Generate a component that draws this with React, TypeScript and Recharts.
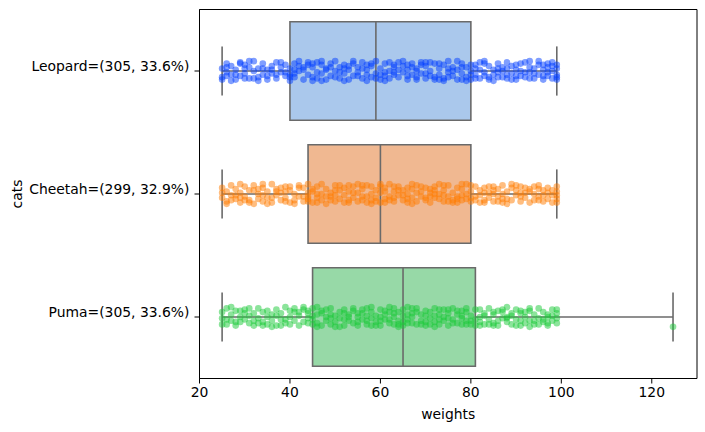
import React from "react";
import {
  ScatterChart,
  Scatter,
  XAxis,
  YAxis,
  ReferenceArea,
  ReferenceLine,
} from "recharts";

// ---- categories & tick labels ----
const categories = ["Leopard", "Cheetah", "Puma"];
const tickLabels = ["Leopard=(305, 33.6%)", "Cheetah=(299, 32.9%)", "Puma=(305, 33.6%)"];
const xTicks = [20, 40, 60, 80, 100, 120];

// ---- box statistics ----
const whiskerLow = [25, 25, 25];
const q1 = [40, 44, 45];
const median = [59, 60, 65];
const q3 = [80, 80, 81];
const whiskerHigh = [99, 99, 124.7];

// ---- strip points: [weight, jitter in hundredths of a category] ----
const leopardPoints = [
  [25,-2],[25,5],[26,-6],[26,1],[27,3],[27,-4],[28,7],[28,-1],[29,-7],[29,4],
  [30,2],[30,-5],[31,6],[31,-3],[32,0],[32,-8],[33,5],[33,-2],[34,3],[34,-6],
  [35,7],[35,-1],[36,-4],[36,2],[37,6],[37,-7],[38,1],[38,-3],[39,4],[39,-5],
  [40,8],[40,-2],[40,3],[41,-6],[41,5],[42,0],[42,-4],[43,7],[43,-1],[44,3],
  [44,-7],[45,5],[45,-3],[46,1],[46,6],[47,-5],[47,2],[48,7],[48,-2],[49,-6],
  [49,4],[50,0],[50,-8],[51,6],[51,-3],[52,2],[52,-5],[53,7],[53,-1],[54,4],
  [54,-6],[55,1],[55,-3],[56,6],[56,-7],[57,3],[57,-1],[58,5],[58,-4],[59,-8],
  [59,2],[60,7],[60,-2],[61,4],[61,-6],[62,0],[62,6],[63,-3],[63,3],[64,-7],
  [64,5],[65,1],[65,-4],[66,7],[66,-1],[67,3],[67,-6],[68,5],[68,-2],[69,-7],
  [69,2],[70,6],[70,-4],[71,0],[71,4],[72,-6],[72,7],[73,-2],[73,3],[74,-5],
  [74,6],[75,1],[75,-8],[76,4],[76,-3],[77,7],[77,-1],[78,2],[78,-6],[79,5],
  [79,-3],[80,0],[80,7],[80,-5],[81,3],[81,-2],[82,6],[82,-7],[83,1],[83,4],
  [84,-4],[84,7],[85,-1],[85,3],[86,-6],[86,5],[87,0],[87,-3],[88,6],[88,-7],
  [89,2],[89,-4],[90,7],[90,-1],[91,4],[91,-6],[92,1],[92,5],[93,-3],[93,-8],
  [94,6],[94,2],[95,-5],[95,3],[96,-1],[96,7],[97,-6],[97,4],[98,0],[98,-4],
  [99,5],[99,-2],[99,3],
  [27,8],[31,-8],[26,-3],[35,4],[29,-6],[33,8],[38,-7],[30,6],[36,-1],[40,5],
  [42,-8],[39,1],[44,-5],[47,8],[41,2],[46,-7],[43,-3],[50,5],[48,-1],[52,8],
  [45,-6],[55,4],[53,-4],[57,8],[51,1],[58,-6],[56,-2],[60,3],[62,-7],[59,6],
  [64,-1],[61,8],[66,-5],[63,1],[68,7],[65,-8],[70,2],[67,-3],[72,5],[69,-5],
  [74,8],[71,-7],[76,0],[73,-6],[78,7],[75,-2],[80,3],[77,-8],[82,-1],[79,8],
  [84,5],[81,-5],[86,-2],[83,-6],[88,3],[85,8],[90,-5],[87,5],[92,-7],[89,7],
  [94,-2],[91,0],[96,4],[93,6],[98,-7],[95,-8],[97,1],[99,-5],[98,6],[96,-5],
  [25,7],[28,3],[32,6],[34,-2],[37,3],[45,8],[49,-3],[54,-8],[57,-5],[61,1],
  [66,4],[70,-7],[73,7],[78,-3],[83,-8],[86,1],[90,4],[93,1],[97,-3],[99,7],
  [26,4],[30,-2],[41,-1],[47,-8],[52,-2],[63,-5],[68,0],[75,5],[81,6],[88,-2],
];
const cheetahPoints = [
  [25,3],[25,-5],[26,6],[26,-2],[27,-7],[27,1],[28,4],[28,-4],[29,7],[29,-1],
  [30,-6],[30,2],[31,5],[31,-3],[32,8],[32,-7],[33,0],[33,4],[34,-5],[34,6],
  [35,-2],[35,3],[36,-8],[36,7],[37,1],[37,-4],[38,5],[38,-1],[39,-6],[39,3],
  [40,7],[40,-3],[41,0],[41,5],[42,-7],[42,2],[43,6],[43,-5],[44,-1],[44,4],
  [44,-8],[45,7],[45,-2],[46,3],[46,-6],[47,5],[47,0],[48,-4],[48,8],[49,-1],
  [49,2],[50,-7],[50,6],[51,-3],[51,4],[52,1],[52,-5],[53,7],[53,-2],[54,3],
  [54,-6],[55,6],[55,-1],[56,-4],[56,2],[57,7],[57,-7],[58,0],[58,5],[59,-3],
  [59,3],[60,-6],[60,7],[60,-1],[61,4],[61,-5],[62,2],[62,-8],[63,6],[63,-2],
  [64,1],[64,-6],[65,5],[65,-3],[66,7],[66,0],[67,-4],[67,3],[68,-7],[68,6],
  [69,2],[69,-2],[70,5],[70,-5],[71,-1],[71,7],[72,3],[72,-6],[73,0],[73,4],
  [74,-3],[74,6],[75,-7],[75,2],[76,5],[76,-1],[77,-5],[77,7],[78,1],[78,-4],
  [79,4],[79,-8],[80,6],[80,-2],[81,2],[81,-6],[82,7],[82,-3],[83,-1],[83,5],
  [84,-6],[84,3],[85,0],[85,6],[86,-4],[86,2],[87,7],[87,-7],[88,-2],[88,4],
  [89,5],[89,-5],[90,1],[90,-3],[91,6],[91,-6],[92,3],[92,-1],[93,7],[93,-4],
  [94,0],[94,5],[95,-7],[95,2],[96,6],[96,-3],[97,-5],[97,4],[98,1],[98,7],
  [99,-2],[99,4],[99,-6],
  [26,8],[29,-8],[25,-1],[33,-4],[28,1],[31,7],[36,3],[34,-8],[30,5],[38,-5],
  [41,8],[37,-2],[43,2],[39,6],[45,-4],[42,-5],[47,-8],[44,6],[49,5],[46,0],
  [51,-7],[48,2],[53,5],[50,-3],[55,-8],[52,7],[57,2],[54,-1],[59,6],[56,-7],
  [61,-2],[58,8],[63,3],[60,-8],[65,1],[62,5],[67,8],[64,-3],[69,-6],[66,4],
  [71,2],[68,-1],[73,-8],[70,3],[75,6],[72,0],[77,2],[74,-7],[79,0],[76,7],
  [81,5],[78,-8],[83,-5],[80,3],[85,-3],[82,1],[87,4],[84,-1],[89,-8],[86,6],
  [91,2],[88,8],[93,-2],[90,-7],[95,5],[92,-5],[97,-1],[94,-6],[99,7],[96,1],
  [27,5],[32,-3],[35,8],[40,-6],[44,2],[50,1],[56,5],[58,-6],[63,-6],[66,-5],
  [71,-4],[74,1],[78,5],[80,-7],[85,-6],[87,0],[91,-1],[95,-4],[98,-3],[99,1],
  [29,3],[34,1],[39,-2],[46,7],[53,-7],[61,7],[67,-8],[72,-3],[77,4],[83,7],
];
const pumaPoints = [
  [25,1],[25,-4],[26,6],[26,-7],[27,3],[27,-2],[28,-5],[28,7],[29,0],[29,4],
  [30,-6],[30,2],[31,5],[31,-1],[32,-3],[32,7],[33,1],[33,-7],[34,4],[34,-4],
  [35,6],[35,0],[36,-2],[36,3],[37,-6],[37,7],[38,2],[38,-3],[39,5],[39,-8],
  [40,0],[40,6],[41,-4],[41,3],[42,7],[42,-1],[43,-6],[43,4],[44,1],[44,-3],
  [45,6],[45,-7],[45,2],[46,-2],[46,5],[47,-5],[47,7],[48,0],[48,3],[49,-7],
  [49,6],[50,-1],[50,4],[51,-4],[51,1],[52,7],[52,-6],[53,3],[53,-2],[54,5],
  [54,-5],[55,0],[55,7],[56,-3],[56,2],[57,-7],[57,6],[58,1],[58,-4],[59,4],
  [59,-1],[60,7],[60,-6],[61,2],[61,-2],[62,5],[62,-8],[63,0],[63,6],[64,-4],
  [64,3],[65,-1],[65,7],[65,-6],[66,2],[66,5],[67,-3],[67,0],[68,6],[68,-7],
  [69,3],[69,-2],[70,-5],[70,7],[71,1],[71,-4],[72,4],[72,-1],[73,6],[73,-6],
  [74,0],[74,3],[75,-3],[75,7],[76,-7],[76,2],[77,5],[77,-2],[78,-5],[78,1],
  [79,6],[79,-4],[80,3],[80,-1],[81,7],[81,-6],[82,0],[82,4],[83,-3],[83,6],
  [84,-7],[84,2],[85,5],[85,-2],[86,-5],[86,7],[87,1],[87,-4],[88,4],[88,-8],
  [89,6],[89,-1],[90,2],[90,-6],[91,7],[91,-3],[92,0],[92,5],[93,-5],[93,3],
  [94,6],[94,-2],[95,-7],[95,1],[96,4],[96,-4],[97,7],[97,0],[98,-6],[98,3],
  [99,5],[99,-3],[99,1],[124.7,8],
  [28,4],[25,6],[31,-7],[27,-8],[34,7],[30,-3],[37,-1],[33,5],[40,-5],[36,8],
  [43,-8],[39,2],[46,8],[42,-4],[49,1],[45,-1],[52,-3],[48,-6],[55,4],[51,8],
  [58,7],[54,-7],[61,-5],[57,3],[64,6],[60,0],[67,-7],[63,-3],[70,4],[66,-8],
  [73,-2],[69,6],[76,5],[72,-7],[79,-7],[75,1],[82,7],[78,-1],[85,-4],[81,2],
  [88,1],[84,6],[91,-5],[87,-6],[94,3],[90,7],[97,-2],[93,-7],[99,-6],[96,2],
  [26,2],[29,-5],[32,3],[35,-5],[38,7],[41,-7],[44,5],[47,-3],[50,8],[53,0],
  [56,-6],[59,7],[62,2],[65,4],[68,-4],[71,6],[74,-6],[77,-5],[80,6],[83,-1],
  [86,3],[89,-3],[92,-4],[95,6],[98,-1],[46,-8],[57,-1],[63,-7],[67,5],[72,8],
  [78,6],[82,-6],[88,0],[91,3],[97,5],[55,-3],[60,3],[64,8],[70,-1],[75,-6],
  [44,-5],[49,-2],[52,2],[58,-8],[62,-4],[66,-2],[73,2],[79,3],[85,7],[93,8],
];

const pointSets = [leopardPoints, cheetahPoints, pumaPoints];
const boxFills = ["#aac8ec", "#f0b891", "#97d9a7"];
const pointColors = ["#023eff", "#ff7c00", "#1ac938"];
const edge = "#6a6a6a";
const FS = 13.9;

const toData = (pts: number[][], cat: number) =>
  pts.map(([x, j]) => ({ x, y: cat + j / 100 }));

const Dot = (color: string) => (props: any) => (
  <circle cx={props.cx} cy={props.cy} r={3.3} fill={color} fillOpacity={0.5} />
);

const YTick = (props: any) => (
  <text x={props.x} y={props.y - 5} textAnchor="end" dominantBaseline="central" fontSize={FS} fill="#000">
    {tickLabels[props.payload.value]}
  </text>
);

const XTick = (props: any) => (
  <text x={props.x} y={props.y + 8} textAnchor="middle" dominantBaseline="central" fontSize={FS} fill="#000">
    {props.payload.value}
  </text>
);

const YLabel = (props: any) => {
  const vb = props.viewBox || {};
  const cx = 17;
  const cy = vb.y + vb.height / 2;
  return (
    <text x={cx} y={cy} transform={`rotate(-90 ${cx} ${cy})`} textAnchor="middle" dominantBaseline="central" fontSize={FS} fill="#000">
      cats
    </text>
  );
};

const XLabel = (props: any) => {
  const vb = props.viewBox || {};
  const cx = vb.x + vb.width / 2;
  return (
    <text x={cx} y={414} textAnchor="middle" dominantBaseline="central" fontSize={FS} fill="#000">
      weights
    </text>
  );
};

export default function App() {
  return (
    <div style={{ position: "absolute", left: 0, top: 0, fontFamily: "DejaVu Sans" }}>
      <ScatterChart width={705} height={432} margin={{ top: 9.5, right: 8, bottom: 0, left: 0 }}>
        <XAxis
          type="number"
          dataKey="x"
          domain={[20, 130]}
          ticks={xTicks}
          height={53.5}
          tickSize={5}
          tickMargin={0}
          stroke="#000"
          tick={<XTick />}
          allowDataOverflow
          label={<XLabel />}
        />
        <YAxis
          type="number"
          dataKey="y"
          domain={[-0.5, 2.5]}
          reversed
          ticks={[0, 1, 2]}
          width={199.5}
          tickSize={5}
          tickMargin={5}
          stroke="#000"
          tick={<YTick />}
          allowDataOverflow
          label={<YLabel />}
        />
        <ReferenceArea x1={20} x2={130} y1={-0.5} y2={2.5} fill="none" stroke="#000" strokeWidth={1} fillOpacity={0} />
        {categories.map((c, i) => (
          <ReferenceArea
            key={"box" + c}
            x1={q1[i]}
            x2={q3[i]}
            y1={i - 0.4}
            y2={i + 0.4}
            fill={boxFills[i]}
            fillOpacity={1}
            stroke={edge}
            strokeWidth={1.6}
          />
        ))}
        {categories.map((c, i) => (
          <ReferenceLine key={"wl" + c} segment={[{ x: whiskerLow[i], y: i }, { x: q1[i], y: i }]} stroke={edge} strokeWidth={1.6} />
        ))}
        {categories.map((c, i) => (
          <ReferenceLine key={"wh" + c} segment={[{ x: q3[i], y: i }, { x: whiskerHigh[i], y: i }]} stroke={edge} strokeWidth={1.6} />
        ))}
        {categories.map((c, i) => (
          <ReferenceLine key={"cl" + c} segment={[{ x: whiskerLow[i], y: i - 0.2 }, { x: whiskerLow[i], y: i + 0.2 }]} stroke={edge} strokeWidth={1.6} />
        ))}
        {categories.map((c, i) => (
          <ReferenceLine key={"ch" + c} segment={[{ x: whiskerHigh[i], y: i - 0.2 }, { x: whiskerHigh[i], y: i + 0.2 }]} stroke={edge} strokeWidth={1.6} />
        ))}
        {categories.map((c, i) => (
          <ReferenceLine key={"md" + c} segment={[{ x: median[i], y: i - 0.4 }, { x: median[i], y: i + 0.4 }]} stroke={edge} strokeWidth={1.6} />
        ))}
        {categories.map((c, i) => (
          <Scatter
            key={"pts" + c}
            name={c}
            data={toData(pointSets[i], i)}
            shape={Dot(pointColors[i])}
            isAnimationActive={false}
          />
        ))}
      </ScatterChart>
    </div>
  );
}
